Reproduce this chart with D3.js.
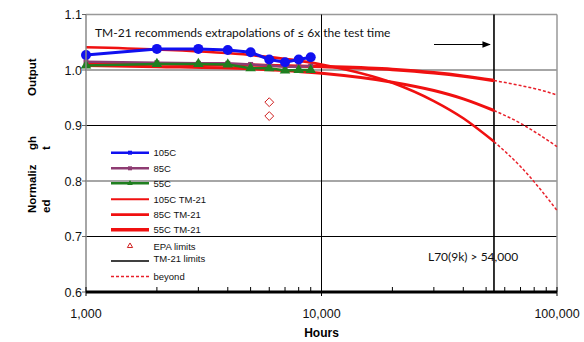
<!DOCTYPE html>
<html>
<head>
<meta charset="utf-8">
<script src="https://cdn.jsdelivr.net/npm/d3@7/dist/d3.min.js"></script>
<style>
  body { margin: 0; background: #fff; }
  svg { display: block; }
</style>
</head>
<body>
<svg id="chart" width="584" height="342"></svg>
<script>
// measured data (hours vs normalized light output)
const hours = [1000, 2000, 3000, 4000, 5000, 6000, 7000, 8000, 9000];
const out105 = [1.027, 1.038, 1.038, 1.036, 1.032, 1.019, 1.014, 1.019, 1.023];
const out85 = [1.015, 1.013, 1.012, 1.012, 1.010, 1.008, 1.006, 1.006, 1.007];
const out55 = [1.008, 1.011, 1.011, 1.010, 1.003, 1.003, 0.999, 1.000, 1.000];

// TM-21 projections, solid up to the 6x limit, dashed beyond
const tmHours = [1000, 2000, 5000, 10000, 20000, 30000, 40000, 54000];
const tm105 = [1.041, 1.037, 1.027, 1.010, 0.977, 0.944, 0.913, 0.871];
const tm85 = [1.008, 1.006, 1.002, 0.994, 0.978, 0.963, 0.948, 0.927];
const tm55 = [1.012, 1.011, 1.009, 1.006, 1.001, 0.995, 0.989, 0.981];
const beyondHours = [54000, 70000, 85000, 100000];
const beyond105 = [0.871, 0.826, 0.785, 0.747];
const beyond85 = [0.927, 0.904, 0.882, 0.862];
const beyond55 = [0.981, 0.972, 0.964, 0.955];

const epaHours = [6000, 6000];
const epaValues = [0.942, 0.917];
const tm21Limit = 54000;

const yTicks = [0.6, 0.7, 0.8, 0.9, 1.0, 1.1];
const xMajor = [1000, 10000, 100000];
const legendLabels = ['105C', '85C', '55C', '105C TM-21', '85C TM-21', '55C TM-21', 'EPA limits', 'TM-21 limits', 'beyond'];

const svg = d3.select('#chart');
const pLeft = 86, pRight = 557, pTop = 14.5, pBottom = 292;

const x = d3.scaleLog().domain([1000, 100000]).range([pLeft, pRight]);
const y = d3.scaleLinear().domain([0.6, 1.1]).range([pBottom, pTop]);

const arial = 'Liberation Sans, Arial, sans-serif';
const calibri = 'Lato, Open Sans, sans-serif';

const blue = '#1010f0', purple = '#8e3b72', green = '#1f7f1f', red = '#f01010';

// horizontal grid (alternating grey/black as in the original)
svg.append('g').selectAll('line')
  .data(yTicks.filter(d => d > 0.65 && d < 1.05))
  .enter().append('line')
  .attr('x1', pLeft).attr('x2', pRight)
  .attr('y1', d => y(d)).attr('y2', d => y(d))
  .attr('stroke', d => Math.round(d * 10) % 2 === 0 ? '#888' : '#000')
  .attr('stroke-width', d => Math.round(d * 10) % 2 === 0 ? 1.5 : 1);

// top and right frame
svg.append('line').attr('x1', pLeft).attr('x2', pRight).attr('y1', pTop).attr('y2', pTop)
  .attr('stroke', '#999').attr('stroke-width', 1.5);
svg.append('line').attr('x1', pRight).attr('x2', pRight).attr('y1', pTop).attr('y2', pBottom)
  .attr('stroke', '#999').attr('stroke-width', 1.5);

// vertical line at 10,000
svg.append('line').attr('x1', x(10000)).attr('x2', x(10000)).attr('y1', pTop).attr('y2', pBottom)
  .attr('stroke', '#000').attr('stroke-width', 1);

// TM-21 limit
svg.append('line').attr('x1', x(tm21Limit)).attr('x2', x(tm21Limit)).attr('y1', pTop).attr('y2', pBottom)
  .attr('stroke', '#000').attr('stroke-width', 1.6);

const line = d3.line().x(d => x(d[0])).y(d => y(d[1])).curve(d3.curveMonotoneX);
const zip = (a, b) => a.map((v, i) => [v, b[i]]);

// TM-21 curves
const tmSeries = [
  { h: tmHours, v: tm105, w: 2.6, bh: beyondHours, bv: beyond105 },
  { h: tmHours, v: tm85, w: 3, bh: beyondHours, bv: beyond85 },
  { h: tmHours, v: tm55, w: 3.4, bh: beyondHours, bv: beyond55 }
];
tmSeries.forEach(s => {
  svg.append('path').attr('d', line(zip(s.h, s.v)))
    .attr('fill', 'none').attr('stroke', red).attr('stroke-width', s.w);
  svg.append('path').attr('d', line(zip(s.bh, s.bv)))
    .attr('fill', 'none').attr('stroke', '#e8202a').attr('stroke-width', 1.5)
    .attr('stroke-dasharray', '3,2');
});

// measured series
const straight = d3.line().x(d => x(d[0])).y(d => y(d[1]));
svg.append('path').attr('d', straight(zip(hours, out85)))
  .attr('fill', 'none').attr('stroke', purple).attr('stroke-width', 2.5);
svg.append('g').selectAll('rect').data(zip(hours, out85)).enter().append('rect')
  .attr('x', d => x(d[0]) - 2.5).attr('y', d => y(d[1]) - 2.5)
  .attr('width', 5).attr('height', 5).attr('fill', purple);

svg.append('path').attr('d', straight(zip(hours, out55)))
  .attr('fill', 'none').attr('stroke', green).attr('stroke-width', 2.5);
svg.append('g').selectAll('path').data(zip(hours, out55)).enter().append('path')
  .attr('d', d3.symbol().type(d3.symbolTriangle).size(48))
  .attr('transform', d => `translate(${x(d[0])},${y(d[1])})`)
  .attr('fill', green);

svg.append('path').attr('d', straight(zip(hours, out105)))
  .attr('fill', 'none').attr('stroke', blue).attr('stroke-width', 3);
svg.append('g').selectAll('circle').data(zip(hours, out105)).enter().append('circle')
  .attr('cx', d => x(d[0])).attr('cy', d => y(d[1])).attr('r', 5)
  .attr('fill', blue);

// EPA limits
svg.append('g').selectAll('path').data(zip(epaHours, epaValues)).enter().append('path')
  .attr('d', d3.symbol().type(d3.symbolDiamond2).size(50))
  .attr('transform', d => `translate(${x(d[0])},${y(d[1])})`)
  .attr('fill', 'none').attr('stroke', '#d02020').attr('stroke-width', 1);

// left axis
svg.append('line').attr('x1', pLeft).attr('x2', pLeft).attr('y1', pTop).attr('y2', pBottom)
  .attr('stroke', '#888').attr('stroke-width', 1.5);
svg.append('g').selectAll('line').data(yTicks).enter().append('line')
  .attr('x1', pLeft - 4).attr('x2', pLeft)
  .attr('y1', d => y(d)).attr('y2', d => y(d))
  .attr('stroke', '#666').attr('stroke-width', 1);
svg.append('g').selectAll('text').data(yTicks).enter().append('text')
  .attr('x', pLeft - 4).attr('y', d => y(d) + 4.5)
  .attr('text-anchor', 'end')
  .style('font', `12.5px ${arial}`).attr('fill', '#111')
  .text(d => d.toFixed(1));

// bottom axis
const minor = [];
[1000, 10000].forEach(dec => { for (let k = 2; k <= 9; k++) minor.push(dec * k); });
svg.append('g').selectAll('line').data(minor).enter().append('line')
  .attr('x1', d => x(d)).attr('x2', d => x(d))
  .attr('y1', pBottom - 5).attr('y2', pBottom)
  .attr('stroke', '#000').attr('stroke-width', 1);
svg.append('g').selectAll('line').data(xMajor).enter().append('line')
  .attr('x1', d => x(d)).attr('x2', d => x(d))
  .attr('y1', pBottom - 5).attr('y2', pBottom + 4)
  .attr('stroke', '#000').attr('stroke-width', 1);
svg.append('line').attr('x1', pLeft).attr('x2', pRight).attr('y1', pBottom).attr('y2', pBottom)
  .attr('stroke', '#000').attr('stroke-width', 3.2);
svg.append('g').selectAll('text').data(xMajor).enter().append('text')
  .attr('x', d => x(d)).attr('y', 318)
  .attr('text-anchor', 'middle')
  .style('font', `12.5px ${arial}`).attr('fill', '#111')
  .text(d3.format(','));

svg.append('text').attr('x', x(10000)).attr('y', 337)
  .attr('text-anchor', 'middle')
  .style('font', `bold 12px ${arial}`)
  .text('Hours');

// y axis title, broken into pieces as in the original
const yTitle = [
  { t: 'Normaliz', cx: 32, by: 213 },
  { t: 'ed', cx: 46, by: 213 },
  { t: 'gh', cx: 32, by: 150 },
  { t: 't', cx: 46, by: 150 },
  { t: 'Output', cx: 32, by: 96 }
];
svg.append('g').selectAll('text').data(yTitle).enter().append('text')
  .attr('transform', d => `translate(${d.cx + 4},${d.by}) rotate(-90)`)
  .style('font', `bold 11.5px ${arial}`)
  .text(d => d.t);

// annotations
svg.append('text').attr('x', 95).attr('y', 36.5)
  .style('font', `12px ${calibri}`).attr('fill', '#111')
  .text('TM-21 recommends extrapolations of \u2264 6x the test time');
svg.append('text').attr('x', 428).attr('y', 260.5)
  .style('font', `12px ${calibri}`).attr('fill', '#111')
  .text('L70(9k) > 54,000');

svg.append('defs').append('marker')
  .attr('id', 'arrow').attr('viewBox', '0 0 10 10')
  .attr('refX', 9).attr('refY', 5)
  .attr('markerWidth', 7).attr('markerHeight', 7)
  .attr('orient', 'auto')
  .append('path').attr('d', 'M0,1 L10,5 L0,9 Z').attr('fill', '#000');
svg.append('line').attr('x1', 434).attr('x2', 490).attr('y1', 44.5).attr('y2', 44.5)
  .attr('stroke', '#000').attr('stroke-width', 1.2)
  .attr('marker-end', 'url(#arrow)');

// legend
const legend = svg.append('g').selectAll('g')
  .data(legendLabels).enter().append('g')
  .attr('transform', (d, i) => `translate(111, ${[152.7, 168.3, 183.3, 199.2, 214.6, 229.8, 246, 261, 276.5][i]})`);

legend.each(function (d, i) {
  const g = d3.select(this);
  if (i < 3) {
    const c = [blue, purple, green][i];
    g.append('line').attr('x1', 0).attr('x2', 38).attr('stroke', c).attr('stroke-width', 2.5);
    if (i === 2) {
      g.append('path').attr('d', d3.symbol().type(d3.symbolTriangle).size(14))
        .attr('transform', 'translate(19,0)').attr('fill', c);
    } else {
      g.append('rect').attr('x', 17).attr('y', -2).attr('width', 4).attr('height', 4).attr('fill', c);
    }
  } else if (i < 6) {
    g.append('line').attr('x1', 0).attr('x2', 38).attr('stroke', red)
      .attr('stroke-width', [2, 2.8, 3.6][i - 3]);
  } else if (i === 6) {
    g.append('path').attr('d', d3.symbol().type(d3.symbolTriangle).size(12))
      .attr('transform', 'translate(19,0)')
      .attr('fill', 'none').attr('stroke', '#d02020').attr('stroke-width', 1);
  } else if (i === 7) {
    g.append('line').attr('x1', 0).attr('x2', 38).attr('stroke', '#000').attr('stroke-width', 1.5);
  } else {
    g.append('line').attr('x1', 0).attr('x2', 38).attr('stroke', '#e8202a')
      .attr('stroke-width', 1.3).attr('stroke-dasharray', '3,2');
  }
  g.append('text').attr('x', 42.5).attr('y', i === 7 ? 0.5 : 3.5)
    .style('font', `9.5px ${arial}`).attr('fill', '#111')
    .text(d);
});
</script>
</body>
</html>
